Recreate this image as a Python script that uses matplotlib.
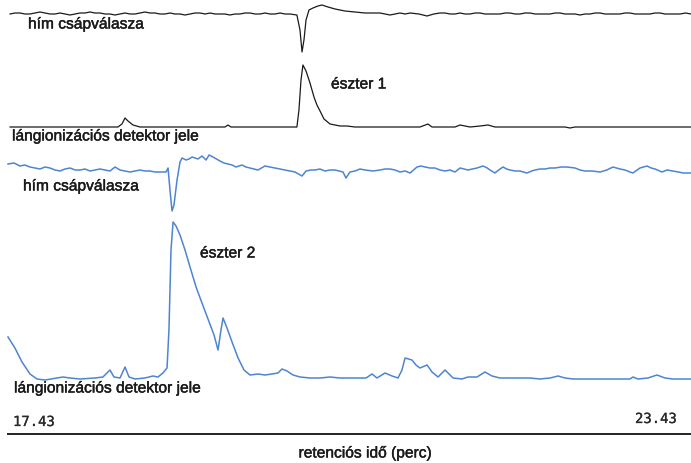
import numpy as np
import matplotlib
matplotlib.use("Agg")
import matplotlib.pyplot as plt
import matplotlib.patheffects as pe

# retention time window (perc)
t_start, t_end = 17.43, 23.43

# --- trace 1: him csapvalasza (black, ester 1 run) ---
ead1_t = [17.448, 17.491, 17.535, 17.579, 17.623, 17.667, 17.711, 17.755, 17.799, 17.843,
          17.887, 17.931, 17.975, 18.019, 18.063, 18.107, 18.150, 18.194, 18.238, 18.282,
          18.326, 18.370, 18.414, 18.458, 18.502, 18.546, 18.590, 18.633, 18.677, 18.721,
          18.765, 18.809, 18.853, 18.897, 18.941, 18.985, 19.029, 19.073, 19.117, 19.161,
          19.205, 19.249, 19.292, 19.336, 19.380, 19.424, 19.468, 19.512, 19.556, 19.600,
          19.644, 19.688, 19.732, 19.776, 19.820, 19.864, 19.907, 19.968,
          19.995, 20.013, 20.030, 20.048, 20.074, 20.109, 20.153, 20.188, 20.241, 20.303,
          20.390, 20.478, 20.566, 20.632, 20.698, 20.742, 20.786, 20.830, 20.874, 20.918,
          20.962, 21.040, 21.111, 21.170, 21.225, 21.269, 21.313, 21.357, 21.401, 21.445,
          21.489, 21.533, 21.577, 21.620, 21.664, 21.708, 21.752, 21.796, 21.840, 21.884,
          21.928, 21.972, 22.016, 22.060, 22.104, 22.148, 22.192, 22.236, 22.279, 22.323,
          22.367, 22.411, 22.455, 22.499, 22.543, 22.587, 22.631, 22.675, 22.719, 22.763,
          22.806, 22.850, 22.894, 22.938, 22.982, 23.026, 23.070, 23.114, 23.158, 23.202,
          23.246, 23.290, 23.334, 23.382, 23.430]
ead1_v = [0, 1, 1, 0, 0, 1, 2, 1, 0, 0,
          1, 0, -1, 0, 1, 1, 2, 1, 1, 0,
          0, -1, 0, 1, 0, 0, 1, 2, 1, 1,
          0, 0, 1, 0, 0, -1, 0, 1, 1, 0,
          1, 0, 0, 0, -1, 0, 0, 1, 1, 0,
          0, 1, 0, 0, 1, 0, 0, -1,
          -16, -38, -26, -6, 4, 6, 8, 9, 7, 5,
          3, 2, 1, 1, 1, 0, -1, 0, 1, 0,
          1, 0, -2, 0, 1, 1, 0, 0, 1, 0,
          0, 1, 1, 0, 0, 0, 0, 1, 1, 0,
          0, 1, 1, 0, 0, 0, 0, 1, 1, 0,
          0, 0, -1, 0, 0, 1, 1, 0, 0, 0,
          0, 1, 1, 0, 0, 0, 0, 1, 1, 0,
          0, 0, 0, 1, 0]

# --- trace 2: langionizacios detektor jele (black) ---
fid1_t = [17.448, 18.238, 18.396, 18.431, 18.458, 18.484, 18.528, 18.590, 19.336, 19.362,
          19.389, 19.968, 19.986, 20.004, 20.021, 20.048, 20.083, 20.118, 20.144, 20.171,
          20.206, 20.259, 20.303, 20.347, 20.408, 20.478, 21.049, 21.119, 21.155, 21.357,
          21.401, 21.489, 21.577, 21.647, 21.708, 22.323, 22.367, 22.411, 23.430]
fid1_v = [0, 0, 0, 3, 9, 6, 2, 0, 0, 2,
          0, 0, 17, 47, 62, 56, 44, 30, 22, 16,
          8, 3, 2, 1, 1, 0, 0, 3, 0, 0,
          2, 0, 1, 2, 0, 0, -1, 0, 0]

# --- trace 3: him csapvalasza (blue, ester 2 run) ---
ead2_t = [17.430, 17.483, 17.535, 17.579, 17.623, 17.667, 17.711, 17.755, 17.799, 17.843,
          17.887, 17.931, 17.975, 18.019, 18.063, 18.107, 18.150, 18.194, 18.238, 18.282,
          18.326, 18.370, 18.414, 18.458, 18.502, 18.546, 18.590, 18.633, 18.677, 18.721,
          18.765, 18.818, 18.836,
          18.853, 18.871, 18.888, 18.915, 18.941, 18.959, 18.994, 19.020, 19.047, 19.073,
          19.099, 19.134, 19.170, 19.196, 19.231, 19.262, 19.292, 19.327, 19.362, 19.398,
          19.433, 19.486, 19.520, 19.556, 19.590, 19.626, 19.687, 19.730, 19.775, 19.820,
          19.863, 19.907, 19.951, 20.013, 20.048, 20.090, 20.127, 20.170, 20.215, 20.259,
          20.303, 20.373, 20.399, 20.434, 20.478, 20.522, 20.566, 20.636, 20.698, 20.742,
          20.786, 20.830, 20.874, 20.918, 20.962, 21.023, 21.058, 21.093, 21.137, 21.181,
          21.225, 21.269, 21.313, 21.357, 21.401, 21.436, 21.471, 21.510, 21.550, 21.603,
          21.640, 21.664, 21.708, 21.740, 21.779, 21.810, 21.840, 21.884, 21.928, 21.989,
          22.030, 22.060, 22.104, 22.148, 22.192, 22.236, 22.290, 22.341, 22.411, 22.455,
          22.499, 22.560, 22.631, 22.690, 22.745, 22.806, 22.850, 22.894, 22.920, 22.982,
          23.043, 23.080, 23.114, 23.175, 23.220, 23.272, 23.320, 23.360, 23.430]
ead2_v = [6, 7, 4, 5, 3, 2, 1, 3, 2, 0,
          -1, 1, 2, 0, 0, 1, -1, 0, 1, 0,
          -1, 3, 0, -1, -2, -1, 0, -1, -1, -2,
          -2, -2, 2,
          -20, -41, -35, -10, 8, 12, 10, 11, 13, 12,
          11, 14, 10, 15, 13, 11, 9, 7, 6, 5,
          3, 5, 3, 2, 1, 0, 4, 3, 2, 1,
          0, -1, -2, -6, -1, 0, 0, 1, -1, 0,
          0, -2, -8, -2, -1, 1, 0, -1, 0, 1,
          1, 0, -2, -1, -3, 3, 4, 3, 2, 2,
          0, -1, 0, -2, 2, 1, 0, 1, 2, 4,
          2, 0, -3, 0, 3, 1, 0, -1, -1, -3,
          -1, 0, 1, 1, 2, 2, 3, 3, 2, 0,
          -1, -1, -2, 0, 3, 1, 0, -2, -3, 2,
          4, 2, 1, -2, 0, -1, -2, -3, -3]

# --- trace 4: langionizacios detektor jele (blue) ---
fid2_t = [17.430, 17.491, 17.553, 17.623, 17.685, 17.755, 17.913, 17.975, 18.063, 18.194,
          18.264, 18.326, 18.361, 18.414, 18.458, 18.493, 18.546, 18.633, 18.703, 18.747,
          18.791, 18.827, 18.844, 18.862, 18.880, 18.906, 18.941, 18.985, 19.029, 19.082,
          19.134, 19.187, 19.240, 19.275, 19.301, 19.319, 19.354, 19.398, 19.451, 19.503,
          19.556, 19.626, 19.687, 19.749, 19.802, 19.837, 19.881, 19.934, 19.995, 20.083,
          20.171, 20.259, 20.347, 20.434, 20.575, 20.628, 20.671, 20.742, 20.804, 20.856,
          20.891, 20.918, 20.979, 21.014, 21.049, 21.111, 21.155, 21.208, 21.269, 21.340,
          21.418, 21.471, 21.550, 21.620, 21.682, 21.752, 22.016, 22.104, 22.192, 22.262,
          22.323, 22.394, 22.894, 22.920, 22.964, 23.052, 23.131, 23.202, 23.272, 23.430]
fid2_v = [42, 31, 17, 5, 0, -1, 2, 1, 0, 1,
          2, 9, 2, 1, 12, 2, 0, 1, 3, 2,
          6, 11, 49, 129, 157, 153, 144, 129, 112, 92,
          76, 60, 44, 29, 49, 61, 51, 37, 21, 9,
          4, 5, 4, 5, 6, 10, 8, 4, 2, 1,
          1, 2, 1, 1, 1, 5, 1, 6, 3, 1,
          9, 21, 19, 14, 11, 14, 7, 2, 9, 1,
          0, 2, 2, 7, 3, 1, 1, 0, 1, 3,
          1, 0, 0, 2, 0, 1, 4, 1, 0, 0]

black = '#1a1a1a'
blue = '#4d85d1'

W, H = 691, 463
fig = plt.figure(figsize=(W / 100, H / 100), dpi=100)
ax = fig.add_axes([0, 0, 1, 1])
ax.set_xlim(t_start - 8 * 6 / 683, t_end)
ax.set_ylim(H, 0)
ax.axis('off')

# baselines of the stacked traces (in figure pixel rows)
ax.plot(ead1_t, 14 - np.array(ead1_v), color=black, lw=0.9)
ax.plot(fid1_t, 127 - np.array(fid1_v), color=black, lw=0.9)
ax.plot(ead2_t, 170 - np.array(ead2_v), color=blue, lw=1.1)
ax.plot(fid2_t, 379 - np.array(fid2_v), color=blue, lw=1.1)

# time axis line
ax.plot([ax.get_xlim()[0] + 7 * 6 / 683, t_end], [434, 434], color='#222222', lw=1.4,
        solid_capstyle='butt')

heavy = [pe.withStroke(linewidth=0.3, foreground=black)]


def lbl(x, y, s, **kw):
    fig.text(x / W, 1 - y / H, s, va='center', color=black,
             family='Liberation Sans', fontsize=11.2, path_effects=heavy, **kw)


lbl(28, 24, 'hím csápválasza')
lbl(331, 84, 'észter 1')
lbl(12, 136, 'lángionizációs detektor jele')
lbl(23, 186, 'hím csápválasza')
lbl(200, 253, 'észter 2')
lbl(14, 388, 'lángionizációs detektor jele')
lbl(365, 453, 'retenciós idő (perc)', ha='center')

for x, y, s in [(13, 422, '17.43'), (635, 419, '23.43')]:
    fig.text(x / W, 1 - y / H, s, va='center', color='#2a2a2a',
             family='DejaVu Sans Mono', fontsize=10,
             path_effects=[pe.withStroke(linewidth=0.2, foreground='#2a2a2a')])

fig.savefig('out.png', dpi=100)
